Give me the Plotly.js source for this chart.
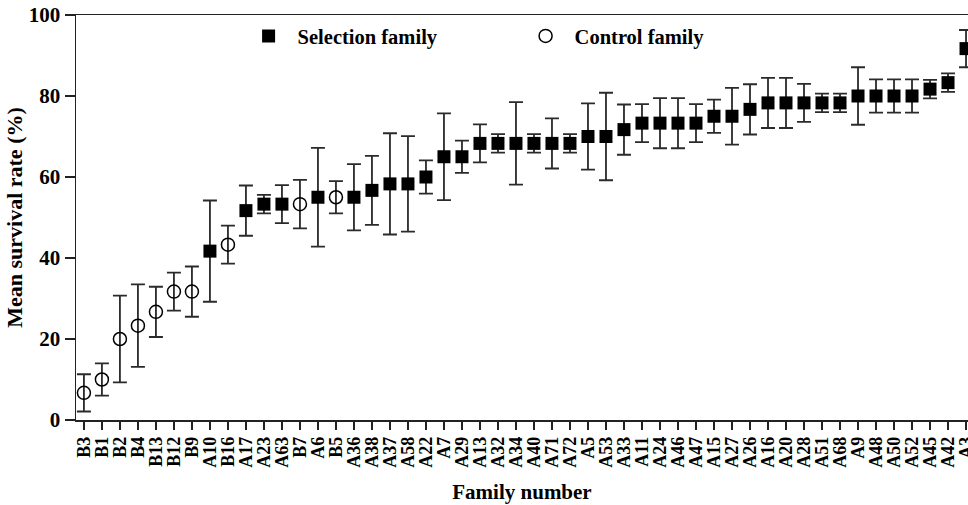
<!DOCTYPE html>
<html>
<head>
<meta charset="utf-8">
<script src="https://cdn.plot.ly/plotly-3.0.1.min.js"></script>
<style>html,body{margin:0;padding:0;background:#fff;}#chart{width:968px;height:505px;}</style>
</head>
<body>
<div id="chart"></div>
<script>
const families = ["B3","B1","B2","B4","B13","B12","B9","A10","B16","A17","A23","A63","B7","A6","B5","A36","A38","A37","A58","A22","A7","A29","A13","A32","A34","A40","A71","A72","A5","A53","A33","A11","A24","A46","A47","A15","A27","A26","A16","A20","A28","A51","A68","A9","A48","A50","A52","A45","A42","A3"];
const groups = ["C","C","C","C","C","C","C","S","C","S","S","S","C","S","C","S","S","S","S","S","S","S","S","S","S","S","S","S","S","S","S","S","S","S","S","S","S","S","S","S","S","S","S","S","S","S","S","S","S","S"];
const means = [6.7,10.0,20.0,23.3,26.7,31.7,31.7,41.7,43.3,51.7,53.3,53.3,53.3,55.0,55.0,55.0,56.7,58.3,58.3,60.0,65.0,65.0,68.3,68.3,68.3,68.3,68.3,68.3,70.0,70.0,71.7,73.3,73.3,73.3,73.3,75.0,75.0,76.7,78.3,78.3,78.3,78.3,78.3,80.0,80.0,80.0,80.0,81.7,83.3,91.7];
const errs = [4.6,4.0,10.7,10.2,6.2,4.7,6.2,12.5,4.7,6.2,2.3,4.7,6.0,12.2,4.0,8.2,8.5,12.5,11.8,4.1,10.7,4.0,4.7,2.3,10.2,2.3,6.2,2.3,8.2,10.8,6.2,4.7,6.2,6.2,4.7,4.1,7.0,6.2,6.2,6.2,4.7,2.3,2.3,7.1,4.1,4.1,4.1,2.3,2.3,4.6];

function pick(g){
  const x=[],y=[],e=[];
  groups.forEach((gg,i)=>{ if(gg===g){x.push(i);y.push(means[i]);e.push(errs[i]);} });
  return {x,y,e};
}
const S = pick("S"), C = pick("C");
const errStyle = e => ({type:'data', array:e, visible:true, color:'#2a2a2a', thickness:1.8, width:7});
const traces = [
  {x:S.x, y:S.y, type:'scatter', mode:'markers', name:'Selection family',
   marker:{symbol:'square', size:13, color:'#000'}, error_y:errStyle(S.e)},
  {x:C.x, y:C.y, type:'scatter', mode:'markers', name:'Control family',
   marker:{symbol:'circle-open', size:13, color:'#000', line:{width:1.5, color:'#000'}}, error_y:errStyle(C.e)}
];
const F = "Liberation Serif, Times New Roman, serif";
const layout = {
  width:968, height:505,
  margin:{l:76, r:0, t:15, b:85},
  paper_bgcolor:'#fff', plot_bgcolor:'#fff',
  font:{family:F, color:'#000'},
  showlegend:true,
  legend:{orientation:'h', x:0.1834, y:0.948, xanchor:'left', yanchor:'middle', itemwidth:48,
    font:{family:F, size:20.5, color:'#000', weight:'bold'}, entrywidth:214, entrywidthmode:'pixels',
    bgcolor:'rgba(0,0,0,0)'},
  xaxis:{range:[-0.44, 49.11], tickmode:'array', tickvals:families.map((_,i)=>i), ticktext:families,
    tickangle:-90, ticks:'outside', ticklen:8, tickwidth:1.5, tickcolor:'#222', ticklabeloverflow:'allow',
    showline:true, linecolor:'#222', linewidth:1.5, mirror:true, showgrid:false, zeroline:false,
    tickfont:{family:F, size:18, color:'#000', weight:'bold'},
    title:{text:'Family number', font:{family:F, size:21, color:'#000', weight:'bold'}, standoff:17}},
  yaxis:{range:[0,100], tickvals:[0,20,40,60,80,100], ticks:'outside', ticklen:10, tickwidth:1.5, tickcolor:'#222',
    showline:true, linecolor:'#222', linewidth:1.5, showgrid:false, zeroline:false,
    tickfont:{family:F, size:21, color:'#000', weight:'bold'},
    title:{text:'Mean survival rate (%)', font:{family:F, size:22, color:'#000', weight:'bold'}, standoff:0}}
};
Plotly.newPlot('chart', traces, layout, {displayModeBar:false, staticPlot:true});
</script>
</body>
</html>
